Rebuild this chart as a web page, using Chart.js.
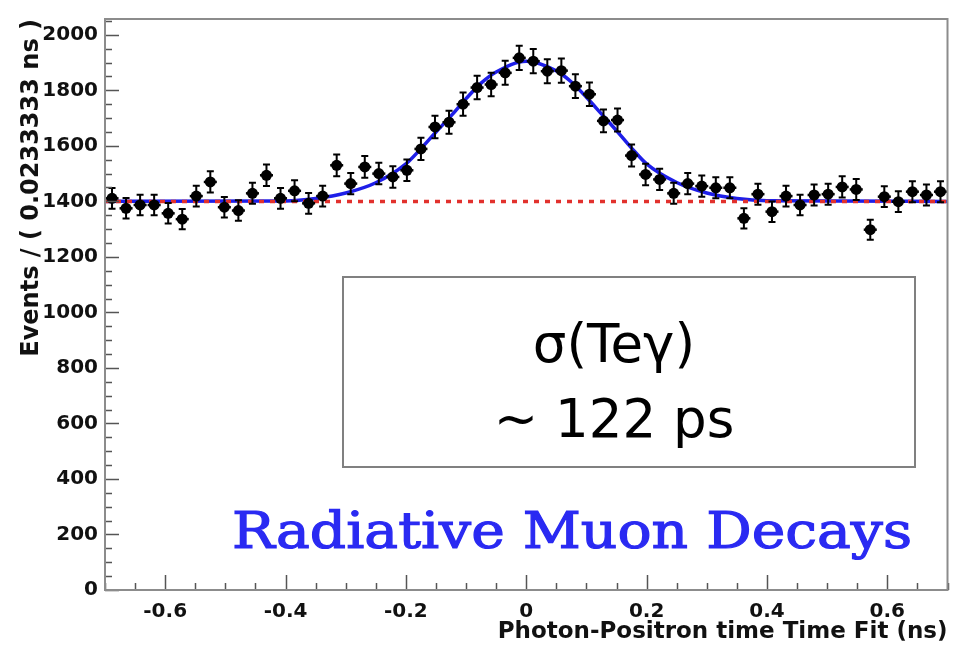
<!DOCTYPE html>
<html lang="en">
<head>
<meta charset="UTF-8" />
<title>Photon-Positron time</title>
<script src="https://cdn.jsdelivr.net/npm/chart.js"></script>
<style>
  html, body { margin: 0; padding: 0; background: #fff; }
</style>
</head>
<body>
<canvas id="timeChart" width="953" height="650"></canvas>
<script>
  // histogram: 60 bins of 0.0233333 ns between -0.7 and 0.7 ns
  const binLow = -0.7;
  const binWidth = 1.4 / 60;
  const counts = [
    1411, 1375, 1387, 1387, 1357, 1336, 1419, 1470, 1379, 1367,
    1429, 1494, 1411, 1438, 1393, 1419, 1530, 1464, 1524, 1500,
    1488, 1512, 1589, 1668, 1685, 1750, 1810, 1821, 1863, 1917,
    1905, 1869, 1871, 1815, 1786, 1690, 1693, 1565, 1497, 1479,
    1429, 1464, 1455, 1449, 1449, 1339, 1426, 1363, 1419, 1387,
    1423, 1426, 1452, 1443, 1298, 1417, 1399, 1435, 1423, 1435
  ];

  // blue fit curve
  const fitX = [-0.7, -0.4, -0.35, -0.3, -0.25, -0.2, -0.175, -0.15, -0.125, -0.1, -0.075, -0.05, 0,
                0.05, 0.075, 0.1, 0.125, 0.15, 0.175, 0.2, 0.25, 0.3, 0.35, 0.4, 0.7];
  const fitY = [1400, 1401, 1410, 1430, 1467, 1535, 1590, 1650, 1708, 1770, 1826, 1866, 1905,
                1870, 1830, 1775, 1715, 1655, 1592, 1535, 1468, 1430, 1410, 1402, 1400];

  // red dotted background level
  const bgX = [-0.7, 0.7];
  const bgY = [1400, 1400];

  const xTicks = [-0.6, -0.4, -0.2, 0, 0.2, 0.4, 0.6];
  const yTicks = [0, 200, 400, 600, 800, 1000, 1200, 1400, 1600, 1800, 2000];
  const yMax = 2057;

  const points = counts.map((n, i) => ({ x: binLow + (i + 0.5) * binWidth, y: n }));

  // vertical poisson errors + bin width bars, drawn under the markers
  const errorBars = {
    id: 'errorBars',
    beforeDatasetDraw(chart, args) {
      if (args.index !== 0) return;
      const { ctx, scales: { x, y } } = chart;
      ctx.save();
      ctx.strokeStyle = '#000';
      points.forEach(p => {
        const err = Math.sqrt(p.y);
        const px = x.getPixelForValue(p.x);
        const py = y.getPixelForValue(p.y);
        const top = y.getPixelForValue(p.y + err);
        const bot = y.getPixelForValue(p.y - err);
        ctx.lineWidth = 2;
        ctx.beginPath();
        ctx.moveTo(px, top); ctx.lineTo(px, bot);
        ctx.moveTo(px - 3.5, top); ctx.lineTo(px + 3.5, top);
        ctx.moveTo(px - 3.5, bot); ctx.lineTo(px + 3.5, bot);
        ctx.stroke();
        ctx.lineWidth = 2.5;
        ctx.beginPath();
        ctx.moveTo(x.getPixelForValue(p.x - binWidth / 2) + 0.5, py);
        ctx.lineTo(x.getPixelForValue(p.x + binWidth / 2) - 0.5, py);
        ctx.stroke();
      });
      ctx.restore();
    }
  };

  // ROOT-like frame with inner ticks, and the text labels
  const frame = {
    id: 'frame',
    afterDraw(chart) {
      const { ctx, chartArea: a, scales: { x, y } } = chart;
      ctx.save();
      ctx.strokeStyle = '#555';
      ctx.lineWidth = 1.5;
      ctx.beginPath();
      for (let v = 0; v <= yMax; v += 50) {
        const py = Math.round(y.getPixelForValue(v)) + 0.5;
        const len = v % 200 === 0 ? 14 : 7;
        ctx.moveTo(a.left, py); ctx.lineTo(a.left + len, py);
      }
      for (let k = -14; k <= 14; k++) {
        const px = Math.round(x.getPixelForValue(k * 0.05)) + 0.5;
        const len = k % 4 === 0 ? 15 : 7;
        ctx.moveTo(px, a.bottom); ctx.lineTo(px, a.bottom - len);
      }
      ctx.stroke();

      ctx.strokeStyle = '#8c8c8c';
      ctx.lineWidth = 2;
      ctx.strokeRect(a.left, a.top, a.right - a.left, a.bottom - a.top);

      // sigma box
      ctx.strokeStyle = '#808080';
      ctx.lineWidth = 2;
      ctx.strokeRect(343, 277, 572, 190);
      ctx.fillStyle = '#000';
      ctx.textAlign = 'center';
      ctx.textBaseline = 'alphabetic';
      ctx.font = '53px "DejaVu Sans"';
      ctx.fillText('σ(Teγ)', 614, 362);
      ctx.fillText('~ 122 ps', 614, 437);

      // blue label, stretched to the width it has in the picture
      const label = 'Radiative Muon Decays';
      ctx.font = '51px "DejaVu Serif"';
      const w = ctx.measureText(label).width;
      ctx.translate(232, 548);
      ctx.scale(680 / w, 1);
      ctx.textAlign = 'left';
      ctx.fillStyle = '#2a2af2';
      ctx.strokeStyle = '#2a2af2';
      ctx.lineWidth = 1.2;
      ctx.fillText(label, 0, 0);
      ctx.strokeText(label, 0, 0);
      ctx.restore();
    }
  };

  new Chart(document.getElementById('timeChart'), {
    type: 'scatter',
    data: {
      datasets: [
        {
          data: points,
          pointRadius: 5.5,
          pointBackgroundColor: '#000',
          pointBorderWidth: 0,
          order: 0
        },
        {
          type: 'line',
          data: bgX.map((v, i) => ({ x: v, y: bgY[i] })),
          borderColor: '#e2312d',
          borderWidth: 3.5,
          borderDash: [5, 6],
          pointRadius: 0,
          order: 1
        },
        {
          type: 'line',
          data: fitX.map((v, i) => ({ x: v, y: fitY[i] })),
          borderColor: '#1e1ee8',
          borderWidth: 3.5,
          pointRadius: 0,
          cubicInterpolationMode: 'monotone',
          order: 2
        }
      ]
    },
    options: {
      responsive: false,
      animation: false,
      layout: { padding: { left: 0, right: 4, top: 14, bottom: 0 } },
      plugins: { legend: { display: false }, tooltip: { enabled: false } },
      scales: {
        x: {
          type: 'linear',
          min: -0.7,
          max: 0.7,
          grid: { display: false, drawTicks: false },
          border: { display: false },
          afterBuildTicks: axis => { axis.ticks = xTicks.map(v => ({ value: v })); },
          afterFit: axis => { axis.height = 60; },
          ticks: {
            autoSkip: false,
            maxRotation: 0,
            padding: 10,
            color: '#111',
            font: { family: 'DejaVu Sans', weight: 'bold', size: 20 },
            callback: v => String(v)
          },
          title: {
            display: true,
            text: 'Photon-Positron time Time Fit (ns)',
            align: 'end',
            color: '#111',
            padding: { top: 0, bottom: 4 },
            font: { family: 'DejaVu Sans', weight: 'bold', size: 23 }
          }
        },
        y: {
          min: 0,
          max: yMax,
          grid: { display: false, drawTicks: false },
          border: { display: false },
          afterBuildTicks: axis => { axis.ticks = yTicks.map(v => ({ value: v })); },
          afterFit: axis => { axis.width = 105; },
          ticks: {
            autoSkip: false,
            padding: 7,
            color: '#111',
            font: { family: 'DejaVu Sans', weight: 'bold', size: 20 },
            callback: v => String(v)
          },
          title: {
            display: true,
            text: 'Events / ( 0.0233333 ns )',
            align: 'end',
            color: '#111',
            padding: { top: 17, bottom: 0 },
            font: { family: 'DejaVu Sans', weight: 'bold', size: 24 }
          }
        }
      }
    },
    plugins: [errorBars, frame]
  });
</script>
</body>
</html>
